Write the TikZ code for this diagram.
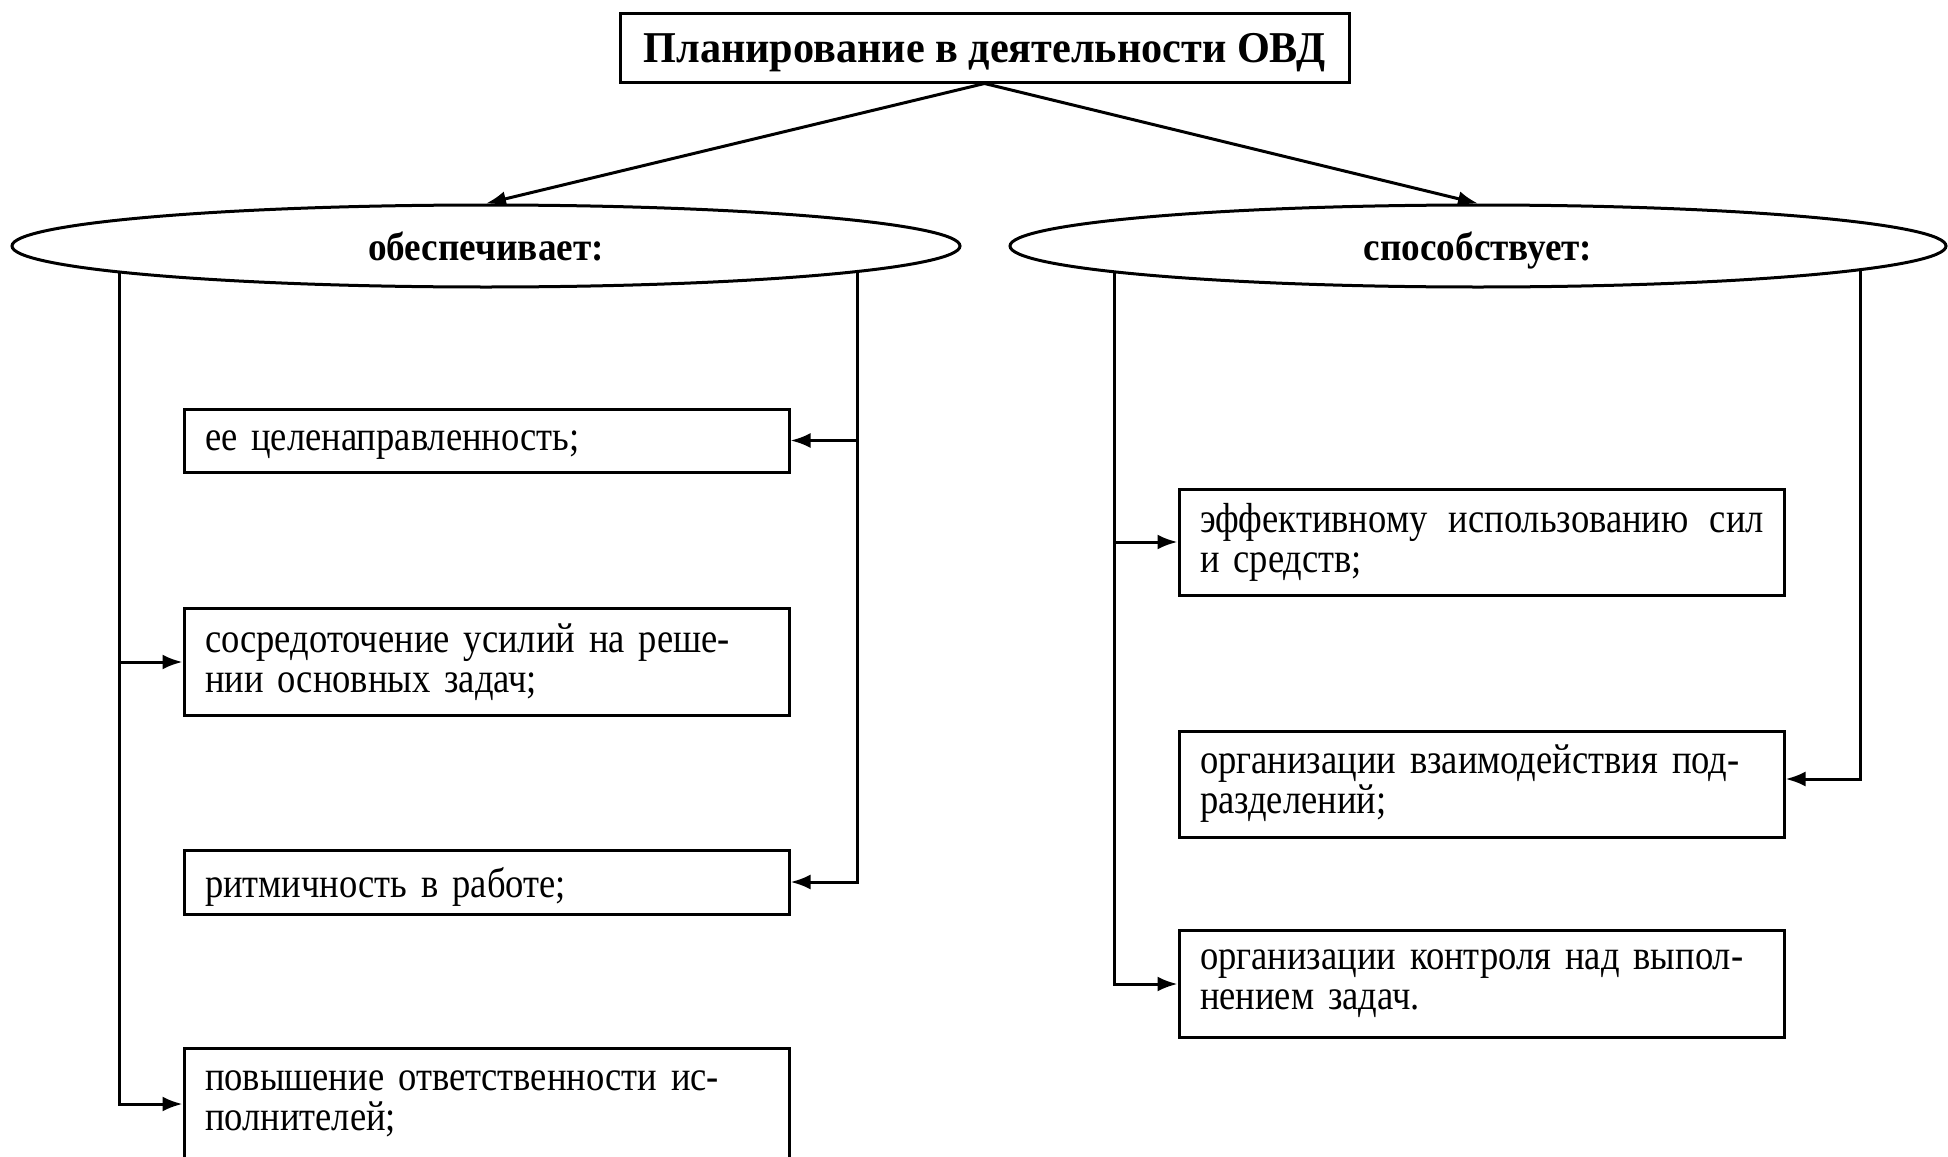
\documentclass[tikz,border=0pt]{standalone}
\usepackage{fontspec}
\setmainfont{Liberation Serif}
\newfontfamily\bodyfont{Liberation Serif}[FakeStretch=0.87,WordSpace=0.7]
\newfontfamily\headfont{Liberation Serif}[FakeStretch=0.96]
\newfontfamily\ovalfont{Liberation Serif}[FakeStretch=0.93]
\usetikzlibrary{arrows.meta,shapes.geometric,calc,backgrounds}
\begin{document}
\begin{tikzpicture}[x=1pt,y=-1pt,
  txt/.style={font=\bodyfont\fontsize{42}{40}\selectfont},
  titlebox/.style={draw,line width=3pt,rectangle,minimum width=729,minimum height=68,
    inner sep=0,text depth=0pt,font=\headfont\fontsize{44}{48}\selectfont\bfseries},
  oval/.style={draw,line width=3pt,ellipse,fill=white,minimum height=82,inner sep=0,
    text depth=0pt,font=\ovalfont\fontsize{40}{44}\selectfont\bfseries},
  itembox/.style={draw,line width=3pt,rectangle,fill=white,minimum width=605,text width=563,
    inner xsep=21,inner ysep=0,align=left,txt},
  oneline/.style={text depth=0pt},
  conn/.style={line width=3pt,-{Latex[length=20pt,width=15pt]}},
  ]
\useasboundingbox (0,0) rectangle (1948,1156);

% top heading
\node[titlebox] (T) at (984.5,48) {Планирование в деятельности ОВД};

% the two branches
\node[oval,minimum width=948] (L) at (486,246) {обеспечивает:};
\node[oval,minimum width=936] (R) at (1478,246) {способствует:};

% left column
\node[itembox,oneline,minimum height=63] (b1) at (486.5,440.5) {ее целенаправленность;};
\node[itembox,minimum height=107] (b2) at (486.5,662) {сосредоточение усилий на реше-\\нии основных задач;};
\node[itembox,oneline,minimum height=64] (b3) at (486.5,882) {ритмичность в работе;};
\node[itembox,minimum height=112] (b4) at (486.5,1104) {повышение ответственности ис-\\полнителей;};

% right column
\node[itembox,minimum height=106] (r1) at (1481.5,542) {\hbox to 564pt{эффективному\hfill использованию\hfill сил}\\и средств;};
\node[itembox,minimum height=106] (r2) at (1481.5,784) {организации взаимодействия под-\\разделений;};
\node[itembox,minimum height=107] (r3) at (1481.5,984) {организации контроля над выпол-\\нением задач.};

% arrows from the heading
\draw[conn] (T.south) -- (L.north);
\draw[conn] (T.south) -- (R.north);

% feed lines, hidden inside the ovals
\begin{scope}[on background layer]
\draw[conn] ($(L.center)+(-367,0)$) |- (b2.west);
\draw[conn] ($(L.center)+(-367,0)$) |- (b4.west);
\draw[conn] ($(L.center)+(371,0)$) |- (b1.east);
\draw[conn] ($(L.center)+(371,0)$) |- (b3.east);
\draw[conn] ($(R.center)+(-364,0)$) |- (r1.west);
\draw[conn] ($(R.center)+(-364,0)$) |- (r3.west);
\draw[conn] ($(R.center)+(382,0)$) |- ($(r2.east)+(0,-5)$);
\end{scope}
\end{tikzpicture}
\end{document}
